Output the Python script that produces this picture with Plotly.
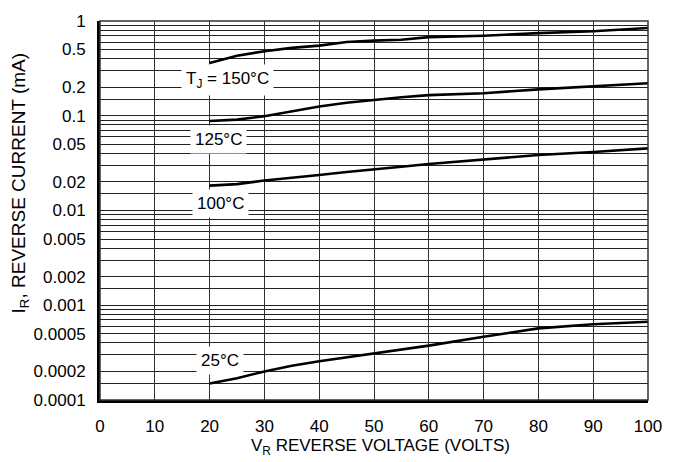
import plotly.graph_objects as go
import math

# ---- data ----
voltage = [20, 25, 30, 35, 40, 45, 50, 55, 60, 70, 80, 90, 100]
i_150 = [0.36, 0.43, 0.48, 0.52, 0.55, 0.60, 0.62, 0.635, 0.675, 0.70, 0.745, 0.78, 0.845]
i_125 = [0.088, 0.091, 0.099, 0.112, 0.125, 0.137, 0.147, 0.157, 0.165, 0.173, 0.19, 0.203, 0.22]
i_100 = [0.0183, 0.019, 0.0207, 0.022, 0.0237, 0.0255, 0.0274, 0.029, 0.031, 0.0343, 0.0385, 0.0415, 0.0453]
i_25 = [0.000149, 0.00017, 0.0002, 0.00023, 0.000257, 0.000283, 0.00031, 0.00034, 0.000375, 0.000465, 0.00057, 0.00063, 0.00067]

x_ticks = [0, 10, 20, 30, 40, 50, 60, 70, 80, 90, 100]
y_tick_vals = [1, 0.5, 0.2, 0.1, 0.05, 0.02, 0.01, 0.005, 0.002, 0.001, 0.0005, 0.0002, 0.0001]
y_tick_text = ["1", "0.5", "0.2", "0.1", "0.05", "0.02", "0.01", "0.005", "0.002", "0.001",
               "0.0005", "0.0002", "0.0001"]
decades = [0.0001, 0.001, 0.01, 0.1]
minor_multipliers = [1.5, 3, 4, 6, 7, 8, 9]

curve_labels = [
    ("T<sub>J</sub> = 150°C", 23.2, 0.236),
    ("125°C", 21.7, 0.0558),
    ("100°C", 22.0, 0.0118),
    ("25°C", 21.9, 0.000262),
]

FONT = "Liberation Sans, Arial, sans-serif"

y_minor = [round(d * m, 10) for d in decades for m in minor_multipliers]

fig = go.Figure()
for series in [i_150, i_125, i_100, i_25]:
    fig.add_trace(go.Scatter(x=voltage, y=series, mode="lines",
                             line=dict(color="black", width=2.6), showlegend=False,
                             hoverinfo="skip"))

for text, xv, yv in curve_labels:
    fig.add_annotation(x=xv, y=math.log10(yv), xref="x", yref="y", text=text,
                       showarrow=False, bgcolor="white", borderpad=4,
                       font=dict(family=FONT, size=17, color="black"))

# axis titles
fig.add_annotation(x=0.512, y=-0.124, xref="paper", yref="paper", xanchor="center",
                   yanchor="middle", showarrow=False,
                   text="V<sub>R</sub> REVERSE VOLTAGE (VOLTS)",
                   font=dict(family=FONT, size=17, color="black"))
fig.add_annotation(x=-0.146, y=0.574, xref="paper", yref="paper", xanchor="center",
                   yanchor="middle", showarrow=False, textangle=-90,
                   text="I<sub>R</sub>, REVERSE CURRENT (mA)",
                   font=dict(family=FONT, size=19, color="black"))

fig.add_shape(type="rect", xref="paper", yref="paper", x0=0, x1=1, y0=0, y1=1,
              line=dict(color="#333", width=1.5), layer="above")

fig.update_layout(
    width=674, height=462,
    margin=dict(l=100, r=26, t=17, b=62),
    paper_bgcolor="white", plot_bgcolor="white",
    font=dict(family=FONT, size=17, color="black"),
    xaxis=dict(range=[0, 100], tickvals=x_ticks, showgrid=True, gridcolor="#333",
               gridwidth=1.4, showline=True, linecolor="black", linewidth=3,
               ticks="", zeroline=False, ticklabelstandoff=9),
    yaxis=dict(type="log", range=[-4, 0], tickvals=y_tick_vals, ticktext=y_tick_text,
               showgrid=True, gridcolor="#222", gridwidth=1.4, showline=True,
               linecolor="black", linewidth=3, ticks="", zeroline=False,
               ticklabelstandoff=8,
               minor=dict(tickvals=y_minor, showgrid=True, gridcolor="#222",
                          gridwidth=1.4, ticks="")),
)

fig.write_html("out.html")
